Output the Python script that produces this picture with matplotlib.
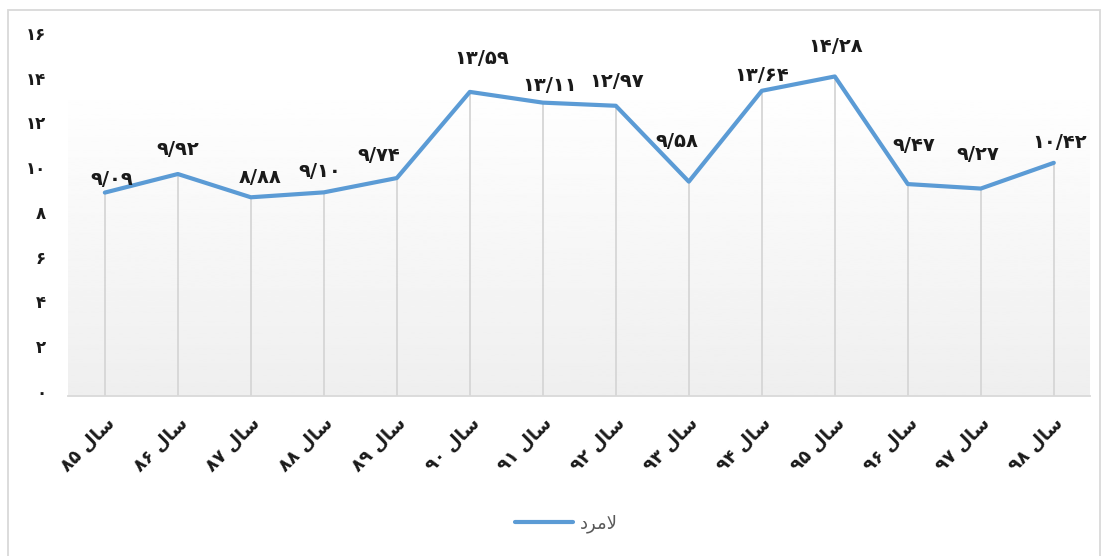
import matplotlib
matplotlib.use("Agg")
import matplotlib.pyplot as plt
import matplotlib.transforms as mtransforms
import numpy as np
from matplotlib.patches import Rectangle

# data
years = ['۸۵', '۸۶', '۸۷', '۸۸', '۸۹', '۹۰', '۹۱', '۹۲', '۹۳', '۹۴', '۹۵', '۹۶', '۹۷', '۹۸']
values = [9.09, 9.92, 8.88, 9.10, 9.74, 13.59, 13.11, 12.97, 9.58, 13.64, 14.28, 9.47, 9.27, 10.42]
yticks = [0, 2, 4, 6, 8, 10, 12, 14, 16]

# Arabic shaped forms in visual (left-to-right) order
SAL = '\uFEDD\uFE8E\uFEB3'          # سال
LAMERD = '\uFEA9\uFEAE\uFEE3\uFEFB'  # لامرد

FA_DIGITS = str.maketrans('0123456789', '۰۱۲۳۴۵۶۷۸۹')

# manual label placement (pixels, relative to point) as in the original chart
label_dx = [7, 0, 9, -4, -18, 12, 7, 1, -12, 0, 1, 6, -3, 6]
label_dy = [13, 25, 20, 21, 23, 33, 17, 24, 40, 15, 30, 39, 34, 20]


def fa_num(v, fmt):
    return (fmt % v).replace('.', '/').translate(FA_DIGITS)


fig = plt.figure(figsize=(11.06, 5.56), dpi=100)
ax = fig.add_axes([0.0618, 0.2878, 0.924, 0.6439])

x = np.arange(len(values))
ax.set_xlim(-0.5, len(values) - 0.5)
ax.set_ylim(0, 16)

# gradient plot-area fill
grad = np.linspace(0.935, 1.0, 256).reshape(-1, 1)
ax.imshow(grad, cmap='gray', vmin=0, vmax=1, aspect='auto',
          extent=(-0.5, len(values) - 0.5, 0, 14.05), origin='lower', zorder=0)

# drop lines
ax.vlines(x, 0, values, color='#d6d6d6', linewidth=1.3, zorder=1)

line, = ax.plot(x, values, color='#5b9bd5', linewidth=3.0, zorder=3,
                solid_capstyle='round', solid_joinstyle='round')

for xi, v, dx, dy in zip(x, values, label_dx, label_dy):
    ax.annotate(fa_num(v, '%.2f'), (xi, v), xytext=(dx * 0.72, dy * 0.72),
                textcoords='offset points', ha='center', va='center',
                fontsize=14, fontweight='bold', color='#1a1a1a')

for s in ['top', 'right', 'left']:
    ax.spines[s].set_visible(False)
ax.spines['bottom'].set_color('#d9d9d9')
ax.spines['bottom'].set_linewidth(1.3)

ax.set_yticks(yticks)
ax.set_yticklabels([str(t).translate(FA_DIGITS) for t in yticks],
                   fontsize=12, fontweight='bold', color='#1a1a1a')
ax.tick_params(axis='y', length=0, pad=16)
shift = mtransforms.ScaledTranslation(0, 5 / 100, fig.dpi_scale_trans)
for lab in ax.get_yticklabels():
    lab.set_transform(lab.get_transform() + shift)

ax.set_xticks(x)
ax.set_xticklabels([y + ' ' + SAL for y in years], rotation=45, ha='right',
                   rotation_mode='anchor', fontsize=13, fontweight='bold', color='#1a1a1a')
ax.tick_params(axis='x', length=0, pad=13)

leg = fig.legend([line], [LAMERD], loc='center', bbox_to_anchor=(0.512, 0.058),
                 frameon=False, handlelength=3.2, handletextpad=0.4,
                 prop={'size': 13})
for t in leg.get_texts():
    t.set_color('#595959')

# chart border
fig.patches.append(Rectangle((8 / 1106, -0.01), 1092 / 1106, 1 - 10 / 556 + 0.01,
                             transform=fig.transFigure, fill=False,
                             edgecolor='#d9d9d9', linewidth=1.3))

fig.savefig('out.png', dpi=100)
